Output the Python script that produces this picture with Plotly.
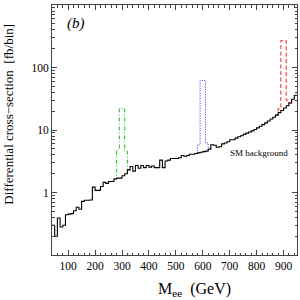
import plotly.graph_objects as go

# Bin lower edges (GeV), 10 GeV bins
bin_lo = list(range(40, 950, 10))
bin_width = 10

# SM background (fb/bin)
sm_bg = [
    0.30, 0.20, 0.39, 0.28, 0.30, 0.44, 0.45, 0.46, 0.51, 0.58,
    0.54, 0.72, 0.75, 0.75, 0.76, 1.22, 1.08, 1.08, 1.25, 1.45,
    1.40, 1.50, 1.50, 1.64, 1.70, 1.70, 1.85, 2.00, 2.30, 2.60,
    2.20, 2.70, 2.45, 2.70, 2.50, 2.70, 2.55, 2.65, 2.50, 2.50,
    3.30, 2.50, 3.20, 3.30, 3.50, 3.50, 3.50, 3.60, 3.90, 3.80,
    3.90, 4.10, 4.10, 4.20, 4.30, 4.40, 4.50, 4.60, 4.95, 5.80,
    5.70, 5.30, 5.40, 6.00, 6.20, 6.50, 7.00, 7.00, 7.40, 7.80,
    8.10, 8.50, 8.90, 9.30, 9.70, 10.2, 10.8, 11.5, 12.2, 13.0,
    13.9, 15.0, 16.0, 17.3, 19.0, 20.5, 22.5, 24.5, 27.0, 31.0,
    36.0,
]

# Signal + background around each resonance (bins lower edges, totals)
sig300_lo = [280, 290, 300, 310]
sig300_tot = [4.8, 22.0, 22.0, 4.6]
sig600_lo = [580, 590, 600, 610]
sig600_tot = [5.8, 62.0, 62.0, 6.2]
sig900_lo = [880, 890, 900, 910]
sig900_tot = [22.0, 270.0, 270.0, 30.0]

FONT = "Liberation Serif"


def step_xy(lo, vals):
    xs = list(lo) + [lo[-1] + bin_width]
    ys = list(vals) + [vals[-1]]
    return xs, ys


def signal_xy(lo, tot):
    # include neighbouring background bins so the outline drops to the SM curve
    i0 = bin_lo.index(lo[0])
    i1 = bin_lo.index(lo[-1])
    xs = [bin_lo[i0 - 1]] + list(lo) + [bin_lo[i1 + 1]]
    ys = [sm_bg[i0 - 1]] + list(tot) + [sm_bg[i1 + 1]]
    return step_xy(xs, ys)


fig = go.Figure()

for lo, tot, col, dash in [
    (sig300_lo, sig300_tot, "#22bb22", "4px,2px,1px,2px"),
    (sig600_lo, sig600_tot, "#3333ff", "1px,1.5px"),
    (sig900_lo, sig900_tot, "#ff2020", "4px,2.5px"),
]:
    xs, ys = signal_xy(lo, tot)
    fig.add_trace(go.Scatter(x=xs, y=ys, mode="lines",
                             line=dict(color=col, width=1, dash=dash, shape="hv"),
                             showlegend=False, hoverinfo="skip"))

xs, ys = step_xy(bin_lo, sm_bg)
fig.add_trace(go.Scatter(x=xs, y=ys, mode="lines",
                         line=dict(color="black", width=1.1, shape="hv"),
                         showlegend=False, hoverinfo="skip"))

y_major = [1, 10, 100, 1000]
y_minor = [m * 10 ** e for e in range(-1, 3) for m in range(2, 10)]

fig.update_layout(
    width=300, height=300,
    margin=dict(l=52, r=3, t=5, b=45),
    paper_bgcolor="white", plot_bgcolor="white",
    font=dict(family=FONT, color="black", size=11.5),
    xaxis=dict(range=[40, 950], tick0=0, dtick=100, ticks="inside", ticklen=5,
               tickcolor="#444", showline=True, linecolor="#444", linewidth=1,
               mirror="ticks", showgrid=False, zeroline=False,
               tickfont=dict(family=FONT, size=11.5),
               minor=dict(dtick=20, tick0=0, ticks="inside", ticklen=2.5,
                          tickcolor="#444", showgrid=False)),
    yaxis=dict(type="log", range=[-1, 3], tickmode="array", tickvals=y_major,
               ticktext=[str(v) for v in y_major], ticks="inside", ticklen=5,
               tickcolor="#444", showline=True, linecolor="#444", linewidth=1,
               mirror="ticks", showgrid=False, zeroline=False,
               tickfont=dict(family=FONT, size=11.5),
               minor=dict(tickmode="array", tickvals=y_minor, ticks="inside",
                          ticklen=2.5, tickcolor="#444", showgrid=False)),
    annotations=[
        dict(text="Differential cross\u2212section \u00a0[fb/bin]", textangle=-90,
             xref="paper", yref="paper", x=-0.181, y=0.564,
             xanchor="center", yanchor="middle", showarrow=False,
             font=dict(family=FONT, size=13)),
        dict(text="M<sub>ee</sub> \u00a0(GeV)", xref="paper", yref="paper",
             x=0.583, y=-0.136, xanchor="center", yanchor="middle",
             showarrow=False, font=dict(family=FONT, size=16)),
        dict(text="<i>(b)</i>", xref="paper", yref="paper", x=0.052, y=0.924,
             xanchor="left", yanchor="middle", showarrow=False,
             font=dict(family=FONT, size=15)),
        dict(text="SM background", xref="paper", yref="paper", x=0.718, y=0.41,
             xanchor="left", yanchor="middle", showarrow=False,
             font=dict(family=FONT, size=9)),
    ],
)

fig.write_html(
    "out.html",
    config={"displayModeBar": False},
    post_script="document.body.style.margin='0px';document.body.style.padding='0px';"
                "document.body.style.overflow='hidden';",
)
